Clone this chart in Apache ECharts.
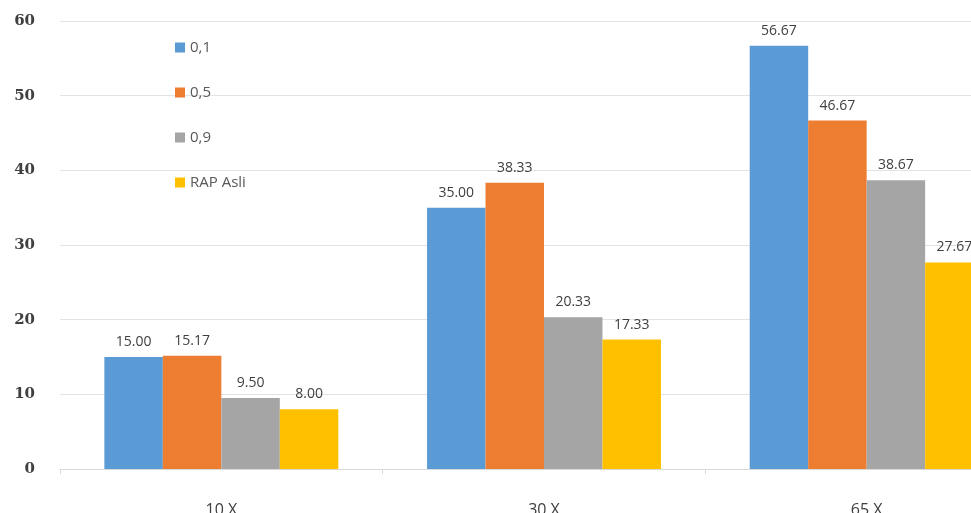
<!DOCTYPE html>
<html><head><meta charset="utf-8">
<script src="https://cdn.jsdelivr.net/npm/echarts@6/dist/echarts.min.js"></script>
<style>html,body{margin:0;padding:0;overflow:hidden;background:#fff;width:971px;height:513px}#c{width:1100px;height:513px}</style>
</head><body><div id="c"></div>
<script>
const categories = ['10 X', '30 X', '65 X'];
const seriesNames = ['0,1', '0,5', '0,9', 'RAP Asli'];
const s01 = [15.00, 35.00, 56.67];
const s05 = [15.17, 38.33, 46.67];
const s09 = [9.50, 20.33, 38.67];
const sRap = [8.00, 17.33, 27.67];
const yTicks = [0, 10, 20, 30, 40, 50, 60];
const colors = ['#5B9BD5', '#ED7D31', '#A5A5A5', '#FFC000'];
const values = [s01, s05, s09, sRap];

const chart = echarts.init(document.getElementById('c'));
const font = 'Open Sans, Liberation Sans, sans-serif';
chart.setOption({
  animation: false,
  backgroundColor: '#fff',
  textStyle: { fontFamily: font },
  legend: {
    orient: 'vertical', left: 170, top: 35, itemGap: 30,
    itemWidth: 10, itemHeight: 10, icon: 'rect',
    textStyle: { fontSize: 15, color: '#595959', fontFamily: font },
    data: seriesNames
  },
  grid: { left: 60, top: 21, width: 968, height: 448, containLabel: false, outerBoundsMode: 'none' },
  xAxis: {
    type: 'category', data: categories,
    axisLine: { lineStyle: { color: '#d9d9d9' } },
    axisTick: { show: true, length: 5, lineStyle: { color: '#d9d9d9' } },
    axisLabel: { fontSize: 16, color: '#404040', margin: 33, fontFamily: font }
  },
  yAxis: {
    type: 'value', min: yTicks[0], max: yTicks[yTicks.length - 1], interval: 10,
    axisLine: { show: false }, axisTick: { show: false },
    splitLine: { lineStyle: { color: '#e3e3e3', width: 1 } },
    axisLabel: { fontSize: 15, fontWeight: 'bold', color: '#404040', margin: 25, fontFamily: 'DejaVu Serif, serif' }
  },
  series: seriesNames.map((n, i) => ({
    name: n, type: 'bar', data: values[i],
    barGap: '0%', barCategoryGap: '27.5%',
    itemStyle: { color: colors[i] },
    label: {
      show: true, position: 'top', distance: 8,
      formatter: p => p.value.toFixed(2),
      fontSize: 14, color: '#404040', fontFamily: font
    }
  }))
});
</script></body></html>
